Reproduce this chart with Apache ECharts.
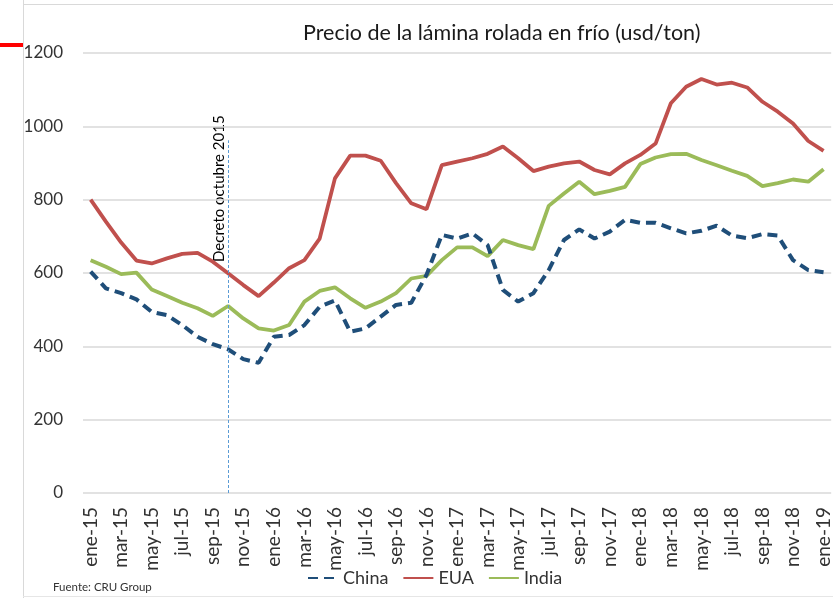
<!DOCTYPE html>
<html>
<head>
<meta charset="utf-8">
<script src="https://cdn.jsdelivr.net/npm/echarts@6/dist/echarts.min.js"></script>
<style>html,body{margin:0;padding:0;background:#fff}#c{width:833px;height:598px}</style>
</head>
<body>
<div id="c"></div>
<script>
var months = ['ene','feb','mar','abr','may','jun','jul','ago','sep','oct','nov','dic'];
var years = ['15','16','17','18','19'];
var categories = [];
years.forEach(function(y, yi){ months.forEach(function(m, mi){ if (yi < 4 || mi === 0) categories.push(m + '-' + y); }); });

var china = [604, 558, 545, 528, 494, 485, 458, 426, 406, 392, 365, 355, 426, 431, 458, 508, 525, 440, 449, 481, 513, 519, 595, 704, 694, 708, 676, 554, 522, 545, 608, 690, 719, 694, 713, 745, 737, 737, 722, 708, 715, 729, 702, 695, 706, 702, 635, 608, 602];
var eua = [800, 740, 683, 634, 626, 640, 652, 655, 631, 599, 567, 537, 574, 613, 635, 694, 858, 920, 920, 906, 845, 790, 774, 894, 904, 913, 925, 945, 913, 878, 890, 899, 904, 881, 869, 899, 922, 953, 1063, 1108, 1129, 1114, 1119, 1106, 1067, 1040, 1008, 960, 933];
var india = [635, 617, 597, 601, 555, 537, 519, 504, 483, 510, 476, 449, 443, 458, 522, 551, 561, 531, 505, 522, 545, 585, 592, 635, 670, 670, 646, 690, 676, 665, 783, 817, 849, 815, 824, 835, 897, 915, 924, 925, 908, 894, 879, 865, 837, 845, 855, 849, 883];
var seriesNames = ['China', 'EUA', 'India'];
var decreeMonth = 'oct-15';
var decreeText = 'Decreto octubre 2015';
var titleText = 'Precio de la lámina rolada en frío (usd/ton)';
var sourceText = 'Fuente: CRU Group';

var FONT = 'Lato';
var chart = echarts.init(document.getElementById('c'), null, {renderer: 'canvas'});
chart.setOption({
  animation: false,
  backgroundColor: '#fff',
  textStyle: {fontFamily: FONT},
  title: [
    {text: titleText, left: 303, top: 22, padding: 0, textStyle: {fontFamily: FONT, fontSize: 21.5, fontWeight: 'normal', color: '#1a1a1a'}},
    {text: sourceText, left: 53, top: 581, padding: 0, textStyle: {fontFamily: FONT, fontSize: 11.5, fontWeight: 'normal', color: '#333'}}
  ],
  legend: {
    data: seriesNames, left: 302, top: 564, itemWidth: 30, itemHeight: 10, itemGap: 14,
    itemStyle: {opacity: 0},
    textStyle: {fontFamily: FONT, fontSize: 18, color: '#333'}
  },
  grid: {left: 83, right: -3, top: 53, bottom: 105, containLabel: false},
  xAxis: {
    type: 'category', data: categories, boundaryGap: true,
    axisLine: {show: false}, axisTick: {show: false},
    axisLabel: {interval: 1, rotate: 90, margin: 14, fontFamily: FONT, fontSize: 19, color: '#333'}
  },
  yAxis: {
    type: 'value', min: 0, max: 1200, interval: 200,
    axisLine: {show: false}, axisTick: {show: false},
    axisLabel: {margin: 20, fontFamily: FONT, fontSize: 17, color: '#333', formatter: function(v){ return String(v); }},
    splitLine: {lineStyle: {color: '#d9d9d9', width: 1.5}}
  },
  series: [
    {name: seriesNames[0], type: 'line', data: china, symbol: 'none', color: '#1f4e79',
     lineStyle: {width: 4, color: '#1f4e79', type: [10, 6]}, z: 3,
     markLine: {silent: true, symbol: 'none', label: {show: false},
       lineStyle: {color: '#5b9bd5', width: 1, type: [3, 2]},
       data: [[{coord: [decreeMonth, 0]}, {coord: [decreeMonth, 962]}]]}},
    {name: seriesNames[1], type: 'line', data: eua, symbol: 'none', color: '#c0504d',
     lineStyle: {width: 3.8, color: '#c0504d'}, z: 2},
    {name: seriesNames[2], type: 'line', data: india, symbol: 'none', color: '#9bbb59',
     lineStyle: {width: 3.8, color: '#9bbb59'}, z: 2}
  ],
  graphic: [
    {type: 'line', shape: {x1: 23.5, y1: 0, x2: 23.5, y2: 598}, style: {stroke: '#d9d9d9', lineWidth: 1}, silent: true},
    {type: 'line', shape: {x1: 23, y1: 4.5, x2: 833, y2: 4.5}, style: {stroke: '#d9d9d9', lineWidth: 1}, silent: true},
    {type: 'line', shape: {x1: 23, y1: 596.5, x2: 833, y2: 596.5}, style: {stroke: '#e6e6e6', lineWidth: 1}, silent: true},
    {type: 'rect', shape: {x: 0, y: 43, width: 23, height: 4}, style: {fill: '#ff0000'}, silent: true},
    {type: 'text', x: 219, y: 262, rotation: Math.PI / 2, silent: true,
     style: {text: decreeText, fontFamily: FONT, fontSize: 15, fill: '#000', textAlign: 'left', textVerticalAlign: 'middle'}}
  ]
});
</script>
</body>
</html>
